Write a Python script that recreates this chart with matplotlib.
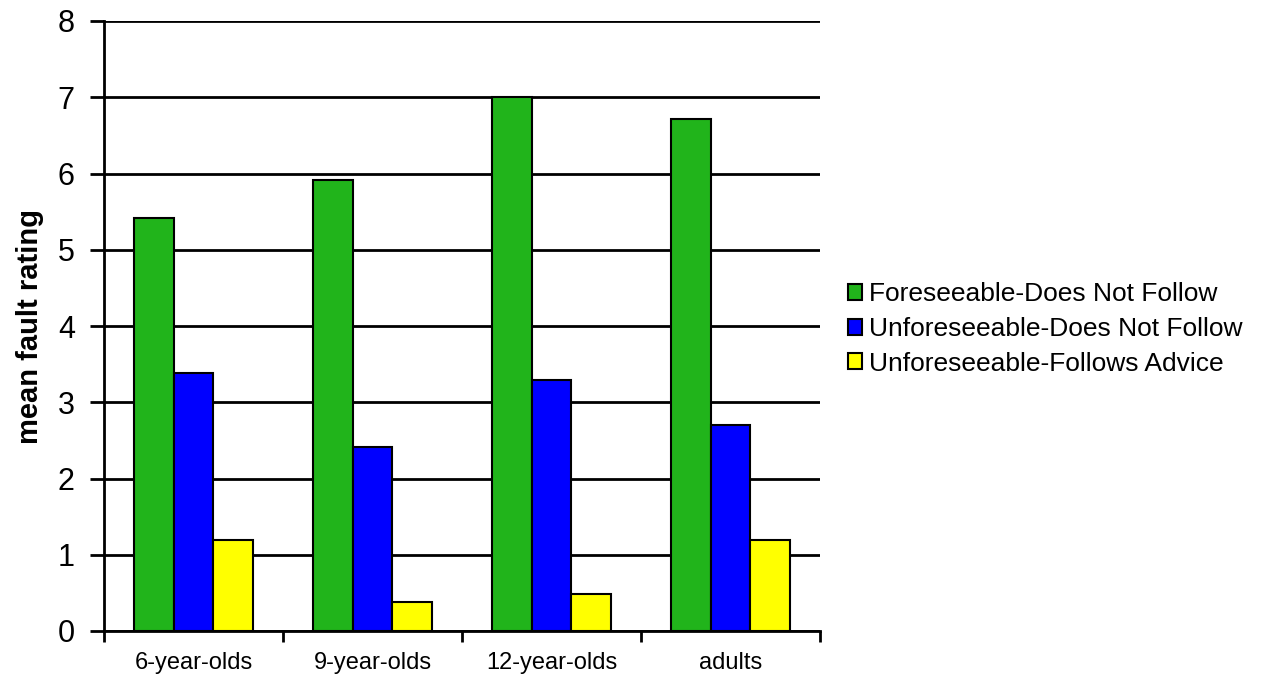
import matplotlib
matplotlib.use("Agg")
import matplotlib.pyplot as plt
import numpy as np
from matplotlib.patches import Patch

plt.rcParams['font.family'] = ['Liberation Sans', 'DejaVu Sans']

groups = ["6-year-olds", "9-year-olds", "12-year-olds", "adults"]
series_names = ["Foreseeable-Does Not Follow",
                "Unforeseeable-Does Not Follow",
                "Unforeseeable-Follows Advice"]
foreseeable_not_follow = [5.42, 5.91, 7.0, 6.71]
unforeseeable_not_follow = [3.39, 2.41, 3.29, 2.70]
unforeseeable_follows = [1.19, 0.38, 0.49, 1.19]
colors = ["#21B41B", "#0000FF", "#FFFF00"]

fig = plt.figure(figsize=(12.66, 6.77), dpi=100)
ax = fig.add_axes([104/1266, 46/677, (820-104)/1266, (631-21)/677])

x = np.arange(len(groups))
width = 0.223
for i, (vals, c) in enumerate(zip(
        [foreseeable_not_follow, unforeseeable_not_follow, unforeseeable_follows], colors)):
    ax.bar(x + (i - 1) * width, vals, width, color=c, edgecolor="black",
           linewidth=1.5, zorder=3)

ax.set_xlim(-0.5, len(groups) - 0.5)
ax.set_ylim(0, 8)
ax.set_yticks(range(0, 9))
ax.yaxis.grid(True, color="black", linewidth=2, zorder=0)
ax.set_axisbelow(True)

ax.set_xticks(np.arange(-0.5, len(groups), 1.0))
ax.set_xticklabels([])
ax.set_xticks(x, minor=True)
ax.set_xticklabels(groups, minor=True, fontsize=17)
ax.tick_params(axis="x", which="minor", length=0, pad=15)
ax.tick_params(axis="x", which="major", length=8, width=2, direction="out")
ax.tick_params(axis="y", length=10, width=2, direction="out", labelsize=22, pad=11)

for s in ["top", "right"]:
    ax.spines[s].set_visible(False)
ax.spines["left"].set_linewidth(2)
ax.spines["bottom"].set_linewidth(2)

ax.set_ylabel("mean fault rating", fontsize=21, fontweight="bold", labelpad=10)

handles = [Patch(facecolor=c, edgecolor="black", linewidth=1.5) for c in colors]
fig.legend(handles, series_names, loc="center left",
           bbox_to_anchor=(837/1266, 1 - 329/677), frameon=False,
           fontsize=19, handlelength=0.55, handleheight=0.55,
           handletextpad=0.25, labelspacing=0.40, borderaxespad=0)

fig.savefig("out.png", dpi=100)
